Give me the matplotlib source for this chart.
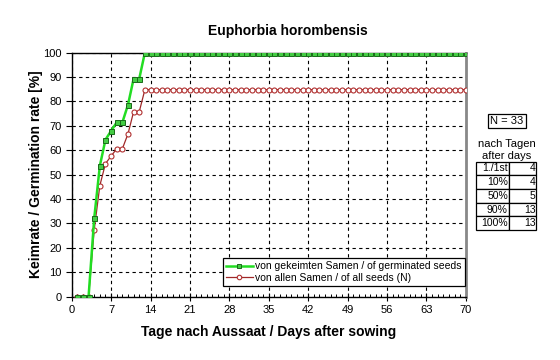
import matplotlib
matplotlib.use('Agg')
import matplotlib.pyplot as plt
from matplotlib.ticker import MultipleLocator

plt.rcParams['font.family'] = ['Liberation Sans', 'DejaVu Sans']

# Daten: Keimung von Euphorbia horombensis (N = 33)
days = list(range(1, 71))
germinated = [0, 0, 0, 32.1, 53.6, 64.3, 67.9, 71.4, 71.4, 78.6, 89.3, 89.3,
              100, 100, 100, 100, 100, 100, 100, 100, 100, 100, 100, 100, 100,
              100, 100, 100, 100, 100, 100, 100, 100, 100, 100, 100, 100, 100,
              100, 100, 100, 100, 100, 100, 100, 100, 100, 100, 100, 100, 100,
              100, 100, 100, 100, 100, 100, 100, 100, 100, 100, 100, 100, 100,
              100, 100, 100, 100, 100, 100]
all_seeds = [0, 0, 0, 27.3, 45.5, 54.5, 57.6, 60.6, 60.6, 66.7, 75.8, 75.8,
             84.8, 84.8, 84.8, 84.8, 84.8, 84.8, 84.8, 84.8, 84.8, 84.8, 84.8,
             84.8, 84.8, 84.8, 84.8, 84.8, 84.8, 84.8, 84.8, 84.8, 84.8, 84.8,
             84.8, 84.8, 84.8, 84.8, 84.8, 84.8, 84.8, 84.8, 84.8, 84.8, 84.8,
             84.8, 84.8, 84.8, 84.8, 84.8, 84.8, 84.8, 84.8, 84.8, 84.8, 84.8,
             84.8, 84.8, 84.8, 84.8, 84.8, 84.8, 84.8, 84.8, 84.8, 84.8, 84.8,
             84.8, 84.8, 84.8]
n_seeds = 33
table_labels = ['1./1st', '10%', '50%', '90%', '100%']
table_days = [4, 4, 5, 13, 13]

fig = plt.figure(figsize=(5.6, 3.6), dpi=100)
ax = fig.add_axes([0.128, 0.176, 0.704, 0.678])

ax.plot(days, all_seeds, color='#a02828', lw=0.9, marker='o', ms=3.6,
        mfc='white', mec='#b03030', mew=0.8, zorder=3,
        label='von allen Samen / of all seeds (N)')
ax.plot(days, germinated, color='#22dd22', lw=1.8, marker='s', ms=3.6,
        mfc='#44cc44', mec='#1a6a1a', mew=0.7, zorder=4,
        label='von gekeimten Samen / of germinated seeds')

ax.set_xlim(0, 70)
ax.set_ylim(0, 100)
ax.xaxis.set_major_locator(MultipleLocator(7))
ax.xaxis.set_minor_locator(MultipleLocator(1))
ax.yaxis.set_major_locator(MultipleLocator(10))
ax.tick_params(axis='x', which='major', direction='inout', length=6, width=0.8, labelsize=8, pad=3)
ax.tick_params(axis='x', which='minor', direction='in', length=2.5, width=0.7)
ax.tick_params(axis='y', direction='out', length=4, width=0.8, labelsize=8, pad=3)
ax.grid(True, which='major', color='black', ls=(0, (3, 3)), lw=0.8)

for s in ['left', 'bottom', 'top']:
    ax.spines[s].set_color('black')
    ax.spines[s].set_linewidth(1)
ax.spines['right'].set_color('#888888')
ax.spines['right'].set_linewidth(2)

ax.set_xlabel('Tage nach Aussaat / Days after sowing', fontsize=10, fontweight='bold', labelpad=7)
ax.set_ylabel('Keimrate / Germination rate [%]', fontsize=10, fontweight='bold', labelpad=0)
fig.text(0.514, 0.914, 'Euphorbia horombensis', ha='center', va='center',
         fontsize=10, fontweight='bold')

handles, labels = ax.get_legend_handles_labels()
leg = ax.legend(handles[::-1], labels[::-1], loc='lower right', bbox_to_anchor=(0.997, 0.045),
                borderaxespad=0, fontsize=7.5, frameon=True, fancybox=False,
                edgecolor='black', framealpha=1, handlelength=2.6, handletextpad=0.2,
                borderpad=0.3, labelspacing=0.1, markerscale=0.9)
leg.get_frame().set_linewidth(0.9)

# N-Box und Tabelle rechts
fig.text(0.905, 0.664, f'N = {n_seeds}', ha='center', va='center', fontsize=8,
         bbox=dict(boxstyle='square,pad=0.2', fc='white', ec='black', lw=0.9))
fig.text(0.905, 0.600, 'nach Tagen', ha='center', va='center', fontsize=8)
fig.text(0.905, 0.568, 'after days', ha='center', va='center', fontsize=8)

tbl = ax.table(cellText=[[l, str(d)] for l, d in zip(table_labels, table_days)],
               cellLoc='right', colWidths=[0.55, 0.45],
               bbox=[1.025, 0.273, 0.154, 0.28])
tbl.auto_set_font_size(False)
tbl.set_fontsize(7.5)
for cell in tbl.get_celld().values():
    cell.set_linewidth(0.9)
    cell.PAD = 0.04

fig.savefig('out.png', dpi=100)
